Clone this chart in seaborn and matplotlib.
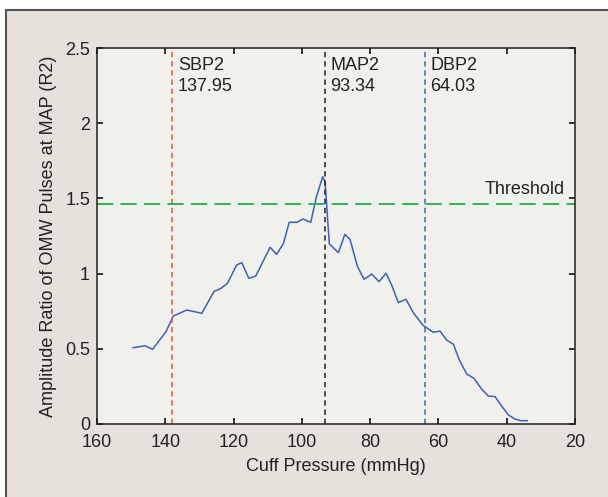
import matplotlib
matplotlib.use("Agg")
import matplotlib.pyplot as plt
import seaborn as sns
import pandas as pd
from matplotlib.patches import Rectangle

cuff_pressure = [149.5, 145.9, 143.7, 139.8, 137.65, 133.7, 129.3, 125.7, 123.8, 121.8,
                 119.1, 117.6, 115.5, 113.5, 109.3, 107.4, 105.4, 103.7, 101.4, 99.7,
                 97.4, 95.7, 93.9, 93.2, 91.95, 89.3, 87.4, 85.9, 83.75, 81.8,
                 79.5, 77.4, 75.35, 73.7, 71.75, 69.5, 67.35, 64.6, 62.95, 61.5,
                 59.5, 57.6, 55.6, 53.9, 51.7, 49.6, 47.3, 45.4, 43.4, 41.5,
                 39.5, 37.6, 35.9, 33.9]
ratio = [0.507, 0.52, 0.497, 0.614, 0.718, 0.758, 0.736, 0.882, 0.90, 0.935,
         1.057, 1.073, 0.968, 0.984, 1.175, 1.128, 1.20, 1.341, 1.341, 1.363,
         1.341, 1.514, 1.644, 1.611, 1.197, 1.139, 1.261, 1.228, 1.05, 0.962,
         0.997, 0.946, 1.002, 0.924, 0.807, 0.829, 0.74, 0.658, 0.632, 0.61,
         0.618, 0.558, 0.53, 0.426, 0.332, 0.304, 0.231, 0.186, 0.182, 0.12,
         0.06, 0.033, 0.022, 0.022]

marker_names = ["SBP2", "MAP2", "DBP2"]
marker_values = [137.95, 93.34, 64.03]
marker_colors = ["#e8542f", "#222222", "#3f66b5"]
threshold = 1.46
x_ticks = [160, 140, 120, 100, 80, 60, 40, 20]
y_ticks = [0, 0.5, 1, 1.5, 2, 2.5]
y_tick_labels = ["0", "0.5", "1", "1.5", "2", "2.5"]

sns.set_style("ticks")
plt.rcParams['font.family'] = ['Liberation Sans', 'DejaVu Sans']
FS = 13

fig = plt.figure(figsize=(6.08, 4.97), dpi=100, facecolor="white")
panel = Rectangle((5.5 / 608, -0.1), 1.2, (497 - 9.5) / 497 + 0.1,
                  transform=fig.transFigure, facecolor="#e6e1db",
                  edgecolor="#555555", linewidth=1.5, zorder=-10)
fig.patches.append(panel)

ax = fig.add_axes([97 / 608, 73 / 497, 478 / 608, 376 / 497])
ax.set_facecolor("#f2f0ec")

df = pd.DataFrame({"x": cuff_pressure, "y": ratio})
sns.lineplot(data=df, x="x", y="y", ax=ax, color="#3a62b8", linewidth=1.1,
             sort=False, estimator=None)

for name, val, col in zip(marker_names, marker_values, marker_colors):
    ax.axvline(val, color=col, linestyle=(0, (3.5, 2.5)), linewidth=1.1)
    ax.text(val - 1.6, 2.44, f"{name}\n{val:.2f}", ha="left", va="top",
            color="#222222", fontsize=FS, linespacing=1.3)

ax.axhline(threshold, color="#1db04a", linestyle=(0, (9, 4)), linewidth=1.3)
ax.text(23.0, threshold + 0.045, "Threshold", ha="right", va="bottom",
        color="#222222", fontsize=FS)

ax.set_xlim(160, 20)
ax.set_ylim(0, 2.5)
ax.set_xticks(x_ticks)
ax.set_yticks(y_ticks)
ax.set_yticklabels(y_tick_labels)
ax.tick_params(direction="in", length=4, width=1.3, top=True, right=True,
               colors="#222222", labelsize=FS)
ax.tick_params(axis="x", pad=7)
ax.tick_params(axis="y", pad=5)
for sp in ax.spines.values():
    sp.set_color("#222222")
    sp.set_linewidth(1.1)
ax.set_xlabel("Cuff Pressure (mmHg)", fontsize=FS, color="#222222", labelpad=5)
ax.set_ylabel("Amplitude Ratio of OMW Pulses at MAP (R2)", fontsize=FS,
              color="#222222", labelpad=6)

fig.savefig("out.png", dpi=100, facecolor=fig.get_facecolor())
